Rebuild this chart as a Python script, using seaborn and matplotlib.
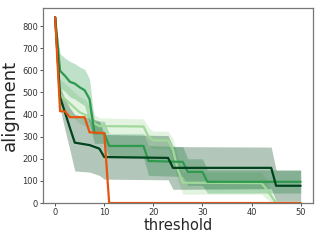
import numpy as np
import pandas as pd
import matplotlib
matplotlib.use("Agg")
import matplotlib.pyplot as plt
import seaborn as sns

# values (threshold -> alignment)
orange_t = [0, 1, 2, 3, 6, 7, 10, 11, 50]
orange_v = [840, 415, 415, 388, 388, 320, 316, 0, 0]

dark_t = [0, 1, 2, 3, 4, 7, 9, 10, 23, 24, 44, 45, 50]
dark_v = [840, 478, 410, 340, 273, 262, 246, 208, 204, 159, 159, 78, 78]
dark_lo = [840, 430, 330, 240, 145, 140, 125, 108, 105, 62, 65, 8, 8]
dark_hi = [840, 525, 470, 430, 400, 385, 370, 310, 305, 255, 253, 148, 148]

medium_t = [0, 1, 2, 3, 4, 5, 6, 7, 8, 10, 11, 18, 19, 26, 27, 30, 31, 50]
medium_v = [840, 598, 575, 548, 540, 523, 510, 470, 316, 316, 258, 258, 190, 186, 141, 141, 96, 96]
medium_lo = [840, 520, 505, 480, 470, 455, 440, 360, 270, 270, 205, 205, 125, 120, 80, 80, 45, 45]
medium_hi = [840, 675, 655, 640, 630, 615, 605, 560, 370, 370, 315, 315, 260, 255, 200, 200, 150, 150]

pale_t = [0, 1, 2, 3, 4, 5, 6, 7, 8, 9, 18, 19, 20, 23, 24, 25, 26, 42, 43, 44, 45, 50]
pale_v = [840, 490, 470, 450, 430, 410, 400, 390, 360, 348, 346, 300, 283, 283, 240, 150, 92, 90, 64, 32, 0, 0]
pale_lo = [840, 445, 420, 400, 380, 360, 350, 340, 320, 315, 315, 260, 245, 245, 190, 100, 40, 40, 20, 5, 0, 0]
pale_hi = [840, 560, 540, 520, 500, 480, 470, 440, 400, 385, 380, 340, 325, 325, 290, 210, 140, 140, 110, 60, 0, 0]

sns.set_style("ticks")
plt.rcParams["axes.edgecolor"] = "#777777"
plt.rcParams["xtick.color"] = "#333333"
plt.rcParams["ytick.color"] = "#333333"

fig, ax = plt.subplots(figsize=(3.2, 2.4), dpi=100)
fig.subplots_adjust(left=0.134, right=0.978, top=0.967, bottom=0.154)

series = [
    (pale_t, pale_v, pale_lo, pale_hi, "#a1d99b"),
    (medium_t, medium_v, medium_lo, medium_hi, "#2e9a4e"),
    (dark_t, dark_v, dark_lo, dark_hi, "#00441b"),
]
for t, v, lo, hi, c in series:
    ax.fill_between(t, lo, hi, color=c, alpha=0.3, linewidth=0)
    sns.lineplot(x=t, y=v, color=c, linewidth=1.6, ax=ax)

sns.lineplot(x=orange_t, y=orange_v, color="#e6550d", linewidth=1.6, ax=ax)

ax.set_ylim(bottom=0)
ax.set_xticks([0, 10, 20, 30, 40, 50])
ax.set_yticks(range(0, 900, 100))
ax.tick_params(labelsize=6, length=2, width=0.6, pad=1.5)
for s in ax.spines.values():
    s.set_linewidth(0.9)
ax.set_xlabel("threshold", fontsize=10.5, labelpad=1)
ax.set_ylabel("alignment", fontsize=13, labelpad=2)

fig.savefig("out.png", dpi=100)
